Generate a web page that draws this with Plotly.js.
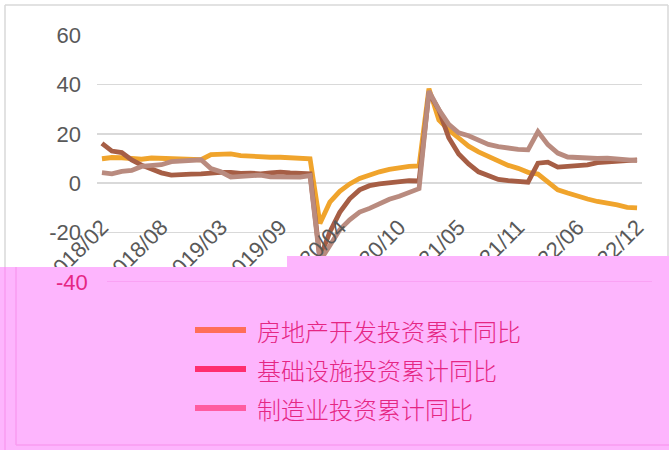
<!DOCTYPE html>
<html><head><meta charset="utf-8">
<script src="https://cdn.plot.ly/plotly-3.0.1.min.js"></script>
<style>html,body{margin:0;padding:0;background:#fff;}#chart{width:669px;height:450px;}</style>
</head><body><div id="chart"></div>
<script>
// ---- data ----
const months = [];
for (let y = 2018; y <= 2022; y++) { for (let m = 2; m <= 12; m++) months.push(y + '/' + (m < 10 ? '0' + m : m)); }
const seriesNames = ['房地产开发投资累计同比', '基础设施投资累计同比', '制造业投资累计同比'];
const realEstate = [9.9,10.4,10.3,10.2,9.7,10.2,10.1,9.9,9.7,9.7,9.5,
  11.6,11.8,11.9,11.2,10.9,10.6,10.5,10.5,10.3,10.2,9.9,
  -16.3,-7.7,-3.3,-0.3,1.9,3.4,4.6,5.6,6.3,6.8,7.0,
  38.3,25.6,21.6,18.3,15.0,12.7,10.9,8.8,7.2,6.0,4.4,
  3.7,0.7,-2.7,-4.0,-5.4,-6.4,-7.4,-8.0,-8.8,-9.8,-10.0];
const infra = [16.1,13.0,12.4,9.4,7.3,5.7,4.2,3.3,3.7,3.7,3.8,
  4.3,4.4,4.4,4.0,4.1,3.8,4.2,4.5,4.2,4.0,3.8,
  -30.3,-19.7,-11.8,-6.3,-2.7,-1.0,-0.3,0.2,0.7,1.0,0.9,
  36.6,29.7,18.4,11.8,7.8,4.6,2.9,1.5,1.0,0.5,0.4,
  8.1,8.5,6.5,6.7,7.1,7.4,8.3,8.6,8.7,8.9,9.4];
const manuf = [4.3,3.8,4.8,5.2,6.8,7.3,7.5,8.7,9.1,9.5,9.5,
  5.9,4.6,2.5,2.7,3.0,3.3,2.6,2.5,2.6,2.5,3.1,
  -31.5,-25.2,-18.8,-14.8,-11.7,-10.2,-8.1,-6.5,-5.3,-3.5,-2.2,
  37.3,29.8,23.8,20.4,19.2,17.3,15.7,14.8,14.2,13.7,13.5,
  20.9,15.6,12.2,10.6,10.4,9.9,10.0,10.1,9.7,9.3,9.1];
const yTicks = [-40, -20, 0, 20, 40, 60];
const xTickStep = 6;

// ---- layout helpers (pixel -> paper) ----
const W = 669, H = 450, ML = 97, MR = 27, MT = 35, MB = 168;
const PW = W - ML - MR, PH = H - MT - MB;
const fx = px => (px - ML) / PW;
const fy = py => (H - MB - py) / PH;

const lineColors = ['#F0A42C', '#A65E45', '#B98B7F'];
const legendColors = ['#FF6E58', '#FF2E6E', '#FF5CA0'];
const pink = '#FDB5FD', pinkLine = '#F99CF0', magenta = '#E52683', gray = '#595959', grid = '#D9D9D9';

const seriesVals = [realEstate, infra, manuf];
const traces = seriesVals.map((v, i) => ({
  type: 'scatter', mode: 'lines', x: months, y: v, name: seriesNames[i],
  line: {color: lineColors[i], width: 4.8}, showlegend: false, hoverinfo: 'skip'
}));

const yMin = yTicks[0];
const tickText = yTicks.map(v => v === yMin ? '' : String(v));
const xTickVals = months.filter((m, i) => i % xTickStep === 0);

const shapes = [
  // white-part chart border
  {type: 'line', xref: 'paper', yref: 'paper', x0: fx(5), x1: fx(668), y0: fy(5), y1: fy(5), line: {color: grid, width: 1.5}, layer: 'below'},
  {type: 'line', xref: 'paper', yref: 'paper', x0: fx(5), x1: fx(5), y0: fy(5), y1: fy(267), line: {color: grid, width: 1.5}, layer: 'below'},
  {type: 'line', xref: 'paper', yref: 'paper', x0: fx(668), x1: fx(668), y0: fy(5), y1: fy(256), line: {color: grid, width: 1.5}, layer: 'below'},
  // pink band on top of everything (stepped top edge)
  {type: 'rect', xref: 'paper', yref: 'paper', x0: fx(0), x1: fx(288), y0: fy(451), y1: fy(267), fillcolor: pink, line: {width: 0}, layer: 'above'},
  {type: 'rect', xref: 'paper', yref: 'paper', x0: fx(287), x1: fx(670), y0: fy(451), y1: fy(256), fillcolor: pink, line: {width: 0}, layer: 'above'},
  {type: 'line', xref: 'paper', yref: 'paper', x0: fx(5), x1: fx(5), y0: fy(267), y1: fy(450), line: {color: pinkLine, width: 1.5}, layer: 'above'},
  {type: 'line', xref: 'paper', yref: 'paper', x0: fx(16), x1: fx(16), y0: fy(267), y1: fy(445), line: {color: pinkLine, width: 1.5}, layer: 'above'},
  {type: 'line', xref: 'paper', yref: 'paper', x0: fx(16), x1: fx(669), y0: fy(445), y1: fy(445), line: {color: pinkLine, width: 1.5}, layer: 'above'},
  {type: 'line', xref: 'paper', yref: 'y', x0: fx(107), x1: fx(652), y0: yMin, y1: yMin, line: {color: pinkLine, width: 1.5}, layer: 'above'}
];

const annotations = [
  {xref: 'paper', yref: 'y', x: fx(90), y: yMin, xanchor: 'right', yanchor: 'middle', text: String(yMin), showarrow: false,
   font: {family: 'Liberation Sans, Arial, sans-serif', size: 22, color: magenta}}
];
const legRowY = [330, 369, 408];
seriesNames.forEach((n, i) => {
  shapes.push({type: 'line', xref: 'paper', yref: 'paper', x0: fx(195), x1: fx(246), y0: fy(legRowY[i]), y1: fy(legRowY[i]),
    line: {color: legendColors[i], width: 6}, layer: 'above'});
  annotations.push({xref: 'paper', yref: 'paper', x: fx(255), y: fy(legRowY[i]), xanchor: 'left', yanchor: 'middle',
    text: n, showarrow: false, font: {family: 'Noto Sans CJK SC', size: 24, color: magenta, weight: 300}});
});

const layout = {
  width: W, height: H,
  margin: {l: ML, r: MR, t: MT, b: MB, pad: 0},
  paper_bgcolor: '#ffffff', plot_bgcolor: 'rgba(0,0,0,0)',
  showlegend: false,
  font: {family: 'Liberation Sans, Arial, sans-serif', color: gray},
  xaxis: {
    type: 'category', categoryorder: 'array', categoryarray: months,
    range: [-0.5, months.length - 0.5],
    anchor: 'free', position: 0.36,
    tickmode: 'array', tickvals: xTickVals, ticktext: xTickVals,
    tickangle: -45, tickfont: {size: 22, color: gray},
    showgrid: false, showline: false, zeroline: false, ticks: '', ticklabelstandoff: 16
  },
  yaxis: {
    range: [-40, 60], tickmode: 'array', tickvals: yTicks, ticktext: tickText,
    tickfont: {size: 22, color: gray}, showgrid: true, gridcolor: grid, gridwidth: 1.5,
    zeroline: false, showline: false, ticks: '', ticklabelstandoff: 15
  },
  shapes: shapes, annotations: annotations
};

Plotly.newPlot('chart', traces, layout, {displayModeBar: false, staticPlot: true});
</script></body></html>
